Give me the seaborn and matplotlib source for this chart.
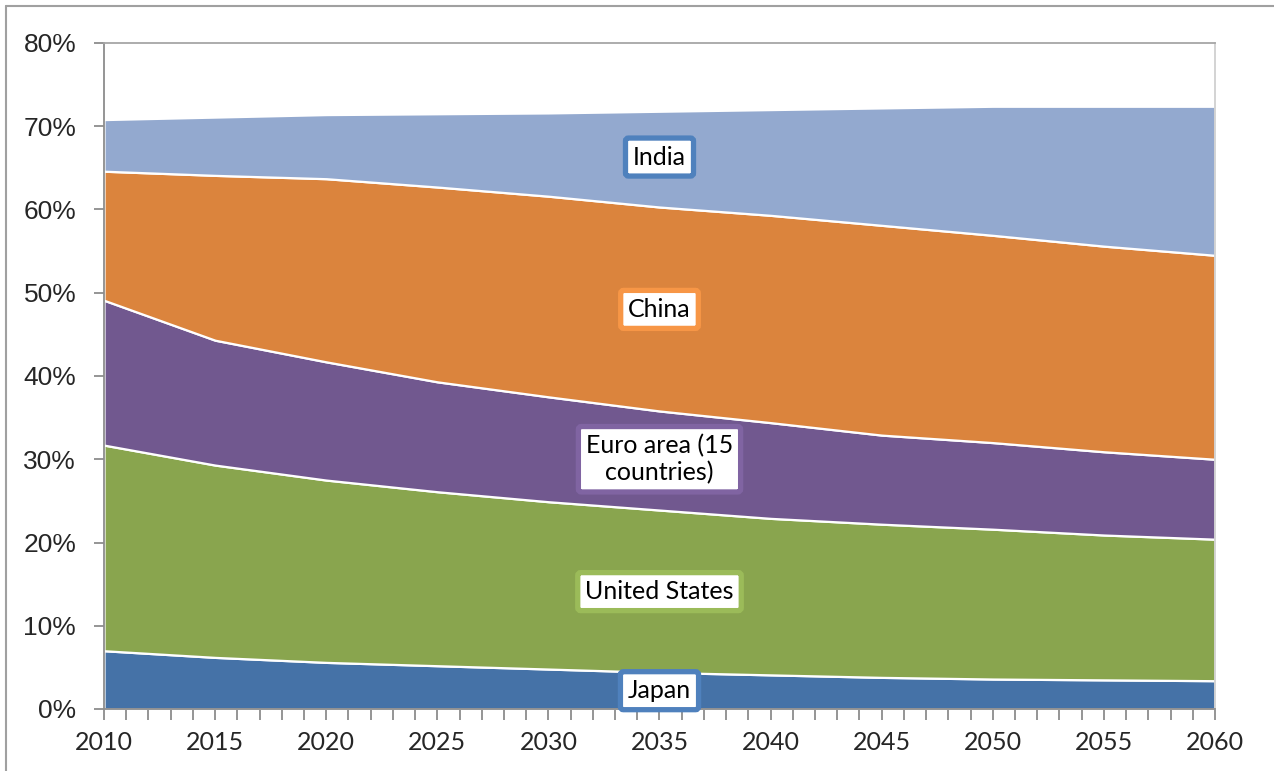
import matplotlib
matplotlib.use("Agg")
import matplotlib.pyplot as plt
from matplotlib.lines import Line2D
from matplotlib.ticker import MultipleLocator, FuncFormatter
import seaborn as sns
import numpy as np

# Shares of world GDP (%), 2010-2060
years = [2010, 2015, 2020, 2025, 2030, 2035, 2040, 2045, 2050, 2055, 2060]
japan = [7.0, 6.2, 5.6, 5.2, 4.8, 4.4, 4.1, 3.8, 3.6, 3.5, 3.4]
united_states = [24.7, 23.1, 21.9, 20.9, 20.1, 19.5, 18.8, 18.4, 18.0, 17.4, 17.0]
euro_area = [17.4, 15.0, 14.2, 13.2, 12.6, 11.9, 11.5, 10.7, 10.4, 10.0, 9.6]
china = [15.5, 19.8, 22.0, 23.4, 24.1, 24.5, 24.9, 25.2, 24.9, 24.7, 24.5]
india = [6.2, 7.0, 7.7, 8.8, 10.0, 11.5, 12.7, 14.1, 15.5, 16.8, 17.9]

series_names = ["Japan", "United States", "Euro area (15\ncountries)", "China", "India"]
fill_colors = ["#4572A7", "#89A54E", "#71588F", "#DB843D", "#93A9CF"]
box_edges = ["#4F81BD", "#9BBB59", "#8064A2", "#F79646", "#4F81BD"]

sns.set_style("white")

fig = plt.figure(figsize=(12.74, 7.71), dpi=100)
ax = fig.add_axes([104 / 1274, 62 / 771, 1111 / 1274, 666 / 771])

stack = np.vstack([japan, united_states, euro_area, china, india])
ax.stackplot(years, stack, colors=fill_colors, edgecolor="white", linewidth=1.6)

ax.set_xlim(2010, 2060)
ax.set_ylim(0, 80)

ax.yaxis.set_major_locator(MultipleLocator(10))
ax.yaxis.set_major_formatter(FuncFormatter(lambda v, p: f"{v:.0f}%"))
ax.xaxis.set_major_locator(MultipleLocator(5))
ax.xaxis.set_minor_locator(MultipleLocator(1))

for s in ax.spines.values():
    s.set_color("#8c8c8c")
    s.set_linewidth(1.3)
ax.spines["top"].set_color("#a6a6a6")
ax.spines["right"].set_color("#d0d0d0")

ax.tick_params(axis="y", which="major", direction="out", length=7, width=1.3,
               color="#8c8c8c", pad=13, left=True)
ax.tick_params(axis="x", which="both", direction="out", length=8, width=1.3,
               color="#8c8c8c", bottom=True)
ax.tick_params(axis="x", which="major", pad=8)

for lab in ax.get_yticklabels():
    lab.set_fontfamily("Liberation Sans")
    lab.set_fontsize(19)
for lab in ax.get_xticklabels():
    lab.set_fontfamily("Lato")
    lab.set_fontsize(18)

# Series labels inside each band
label_pos = [(2035, 2.2), (2035, 14.1), (2035, 30.0), (2035, 48.0), (2035, 66.3)]
for name, (x, y), ec in zip(series_names, label_pos, box_edges):
    ax.text(x, y, name, ha="center", va="center", fontsize=18,
            family="Lato", color="black", linespacing=1.2,
            bbox=dict(boxstyle="round,pad=0.3,rounding_size=0.12",
                      facecolor="white", edgecolor=ec, linewidth=3.8))

# Outer chart border
fig.add_artist(Line2D([5.5 / 1274, 1.0], [1 - 5.5 / 771, 1 - 5.5 / 771],
                      transform=fig.transFigure, color="#a0a0a0", linewidth=1.5))
fig.add_artist(Line2D([5.5 / 1274, 5.5 / 1274], [0, 1 - 5.5 / 771],
                      transform=fig.transFigure, color="#a0a0a0", linewidth=1.5))

fig.savefig("out.png", dpi=100, facecolor="white")
